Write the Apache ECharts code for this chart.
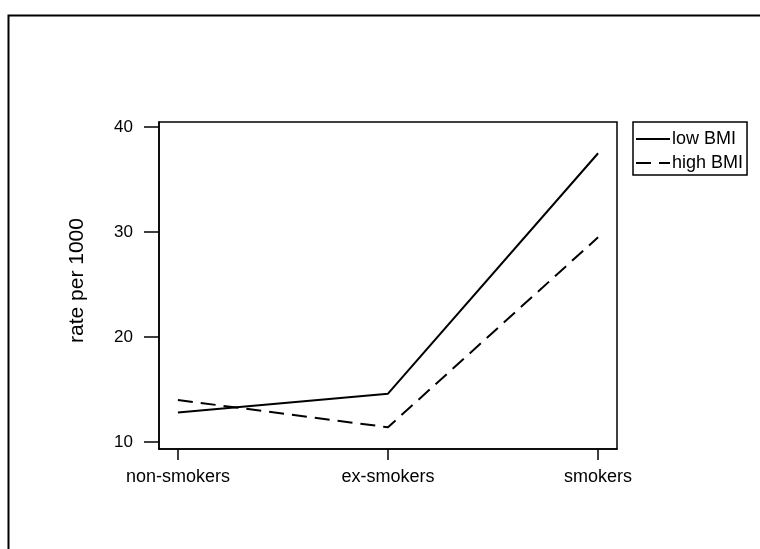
<!DOCTYPE html>
<html>
<head>
<meta charset="utf-8">
<script src="https://cdn.jsdelivr.net/npm/echarts@6/dist/echarts.min.js"></script>
<style>
html,body{margin:0;padding:0;background:#fff;}
#chart{width:760px;height:549px;}
</style>
</head>
<body>
<div id="chart"></div>
<script>
const categories = ['non-smokers', 'ex-smokers', 'smokers'];
const lowBMI = [12.8, 14.6, 37.5];
const highBMI = [14.0, 11.4, 29.5];
const yTicks = [10, 20, 30, 40];
const seriesNames = ['low BMI', 'high BMI'];
const yName = 'rate per 1000';

const FONT = '"Liberation Sans", Arial, Helvetica, sans-serif';
const chart = echarts.init(document.getElementById('chart'), null, {renderer: 'canvas'});

const toPairs = arr => arr.map((v, i) => [i, v]);

chart.setOption({
  backgroundColor: '#fff',
  animation: false,
  textStyle: {fontFamily: FONT, color: '#000'},
  graphic: [{
    type: 'rect',
    left: 6, top: 13,
    shape: {width: 800, height: 600},
    style: {fill: 'none', stroke: '#000', lineWidth: 2}
  }],
  grid: {
    left: 159, right: 143, top: 122, bottom: 100,
    show: true, borderColor: '#000', borderWidth: 1.5, backgroundColor: 'transparent',
    containLabel: false
  },
  legend: {
    orient: 'vertical',
    left: 633, top: 122,
    data: seriesNames,
    itemWidth: 34, itemHeight: 16, itemGap: 6,
    padding: [8, 4, 3, 2],
    borderColor: '#000', borderWidth: 1.5,
    itemStyle: {opacity: 0},
    textStyle: {fontFamily: FONT, fontSize: 18, color: '#000', padding: [0, 0, 0, -3]}
  },
  xAxis: {
    type: 'value',
    min: -0.09, max: 2.09,
    splitLine: {show: false},
    axisLine: {show: true, onZero: false, lineStyle: {color: '#000', width: 1.5}},
    axisTick: {show: true, length: 11, customValues: [0, 1, 2], lineStyle: {color: '#000', width: 1.5}},
    axisLabel: {
      customValues: [0, 1, 2],
      formatter: v => categories[Math.round(v)],
      fontFamily: FONT, fontSize: 18, color: '#000', margin: 19
    }
  },
  yAxis: {
    type: 'value',
    min: 9.33, max: 40.48,
    splitLine: {show: false},
    axisLine: {show: true, onZero: false, lineStyle: {color: '#000', width: 1.5}},
    axisTick: {show: true, length: 15, customValues: yTicks, lineStyle: {color: '#000', width: 1.5}},
    axisLabel: {customValues: yTicks, fontFamily: FONT, fontSize: 17, color: '#000', margin: 26},
    name: yName,
    nameLocation: 'middle',
    nameRotate: 90,
    nameGap: 71,
    nameTextStyle: {fontFamily: FONT, fontSize: 21, color: '#000', padding: [0, 0, 0, 10]}
  },
  series: [{
    name: seriesNames[0],
    type: 'line',
    data: toPairs(lowBMI),
    symbol: 'none',
    lineStyle: {color: '#000', width: 2, type: 'solid'},
    itemStyle: {color: '#000'}
  }, {
    name: seriesNames[1],
    type: 'line',
    data: toPairs(highBMI),
    symbol: 'none',
    lineStyle: {color: '#000', width: 2, type: [15, 8]},
    itemStyle: {color: '#000'}
  }]
});
</script>
</body>
</html>
